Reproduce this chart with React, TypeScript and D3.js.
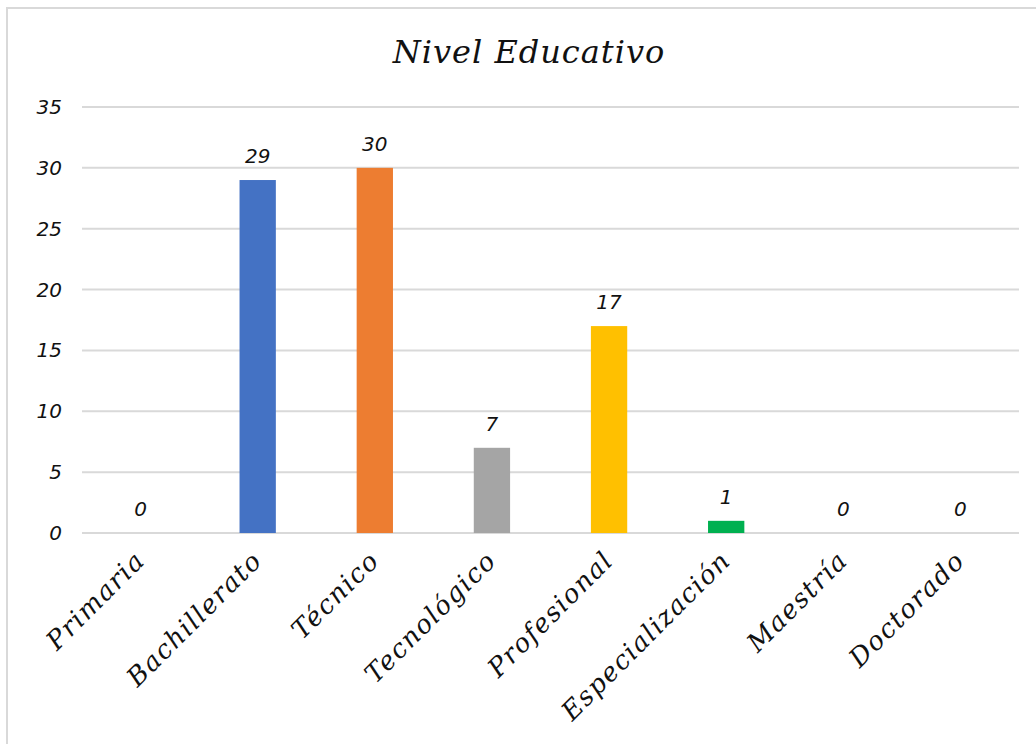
import React from "react";
import * as d3 from "d3";

const categories = ["Primaria", "Bachillerato", "Técnico", "Tecnológico", "Profesional", "Especialización", "Maestría", "Doctorado"];
const values = [0, 29, 30, 7, 17, 1, 0, 0];
const barColors = ["#5B9BD5", "#4472C4", "#ED7D31", "#A5A5A5", "#FFC000", "#00B050", "#264478", "#9E480E"];
const yTicks = [0, 5, 10, 15, 20, 25, 30, 35];
const title = "Nivel Educativo";

const W = 1036;
const H = 744;
const left = 82;
const right = 1019;
const top = 107;
const bottom = 533;

const serif = "'DejaVu Serif', 'Liberation Serif', serif";
const numFont = "'DejaVu Sans', 'Noto Sans', sans-serif";

export default function App() {
  const x = d3.scaleBand<string>().domain(categories).range([left, right]).paddingInner(0.69).paddingOuter(0.345);
  const y = d3.scaleLinear().domain([0, 35]).range([bottom, top]);
  const step = (right - left) / categories.length;

  return (
    <svg width={W} height={H} style={{ position: "absolute", left: 0, top: 0, background: "#fff" }}>
      <rect x={0} y={0} width={W} height={H} fill="#fff" />
      <rect x={7} y={8} width={W + 20} height={H + 20} fill="none" stroke="#d9d9d9" strokeWidth={2} />
      <text x={529} y={63} textAnchor="middle" fontFamily={serif} fontStyle="italic" fontSize={32} letterSpacing={1} fill="#111">
        {title}
      </text>
      {yTicks.map((t) => (
        <g key={t}>
          <line x1={left} x2={right} y1={y(t)} y2={y(t)} stroke="#d9d9d9" strokeWidth={2} />
          <text x={62} y={y(t) + 7} textAnchor="end" fontFamily={numFont} fontStyle="italic" fontSize={20} fill="#111">
            {t}
          </text>
        </g>
      ))}
      {categories.map((c, i) => {
        const bx = x(c) as number;
        const cx = left + step * (i + 0.5);
        return (
          <g key={c}>
            {values[i] > 0 && (
              <rect x={bx} y={y(values[i])} width={x.bandwidth()} height={y(0) - y(values[i])} fill={barColors[i]} />
            )}
            <text x={cx} y={y(values[i]) - 17} textAnchor="middle" fontFamily={numFont} fontStyle="italic" fontSize={20} fill="#111">
              {values[i]}
            </text>
            <text
              transform={`translate(${cx + 6},${562}) rotate(-45)`}
              textAnchor="end"
              fontFamily={serif}
              fontStyle="italic"
              fontSize={26}
              letterSpacing={1.5}
              fill="#111"
            >
              {c}
            </text>
          </g>
        );
      })}
    </svg>
  );
}
